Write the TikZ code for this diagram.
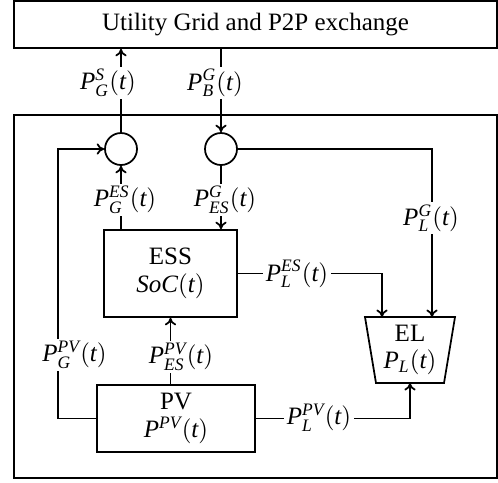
\documentclass[tikz,border=0pt]{standalone}
\usepackage{fontspec}
\setmainfont{Liberation Serif}
\setmathrm{Liberation Serif}
\usetikzlibrary{arrows.meta}
\newcommand{\tpar}[1]{\mathrm{(}\mathit{#1}\mathrm{)}}
\newcommand{\pw}[2]{$\mathit{P}_{\mathit{#1}}^{\mathit{#2}}\tpar{t}$}
\begin{document}
\begin{tikzpicture}[x=0.4pt,y=-0.4pt,
  every node/.style={font=\fontsize{10}{11}\selectfont},
  line/.style={line width=0.7pt},
  arr/.style={line width=0.7pt,-{To[length=3pt,width=4.5pt]}},
  blk/.style={draw,line width=0.7pt,rectangle,inner sep=0pt,align=center},
  sum/.style={draw,line width=0.7pt,circle,minimum size=12.8pt,inner sep=0pt},
  lbl/.style={fill=white,inner sep=1pt}]
\useasboundingbox (0,0) rectangle (498,482);
% boxes
\node[blk,minimum width=483*0.4pt,minimum height=47*0.4pt] (top) at (255.5,24.5) {Utility Grid and P2P exchange};
\draw[line] (14,115) rectangle (497,478);
\node[sum] (cl) at (121,149) {};
\node[sum] (cr) at (221,149) {};
\node[blk,minimum width=133*0.4pt,minimum height=87*0.4pt] (ess) at (170.5,273.5) {ESS\\ $\mathit{SoC}\tpar{t}$};
\node[blk,minimum width=158*0.4pt,minimum height=67*0.4pt] (pv) at (176,418.5) {PV\\ $\mathit{P}^{\mathit{PV}}\tpar{t}$};
\coordinate (ela) at (365,317);
\coordinate (elb) at (455,317);
\coordinate (elc) at (444,383);
\coordinate (eld) at (376,383);
\draw[line] (ela) -- (elb) -- (elc) -- (eld) -- cycle;
\node[align=center,inner sep=0pt] (el) at (410,350) {EL\\ $\mathit{P}_{\mathit{L}}\tpar{t}$};
\coordinate (elin1) at (382,317);
\coordinate (elin2) at (432,317);
\coordinate (elin3) at (410,383);
% connectors
\draw[arr] (cl.north) -- (cl.north |- top.south);
\draw[arr] (top.south -| cr.north) -- (cr.north);
\draw[arr] (pv.west) -- ++(-38,0) |- (cl.west);
\draw[arr] (cr.east) -| (elin2);
\draw[arr] (ess.north -| cl.south) -- (cl.south);
\draw[arr] (cr.south) -- (cr.south |- ess.north);
\draw[arr] (ess.east) -| (elin1);
\draw[arr] (ess.south |- pv.north) -- (ess.south);
\draw[arr] (pv.east) -| (elin3);
% labels
\node[lbl] (l1) at (108,83) {\pw{G}{S}};
\node[lbl] (l2) at (215,83) {\pw{B}{G}};
\node[lbl] (l3) at (125,200) {\pw{G}{ES}};
\node[lbl] (l4) at (225,200) {\pw{ES}{G}};
\node[lbl] (l5) at (431,218) {\pw{L}{G}};
\node[lbl] (l6) at (297,274) {\pw{L}{ES}};
\node[lbl] (l7) at (74.5,355) {\pw{G}{PV}};
\node[lbl] (l8) at (181,357) {\pw{ES}{PV}};
\node[lbl] (l9) at (319,418) {\pw{L}{PV}};
\end{tikzpicture}
\end{document}
